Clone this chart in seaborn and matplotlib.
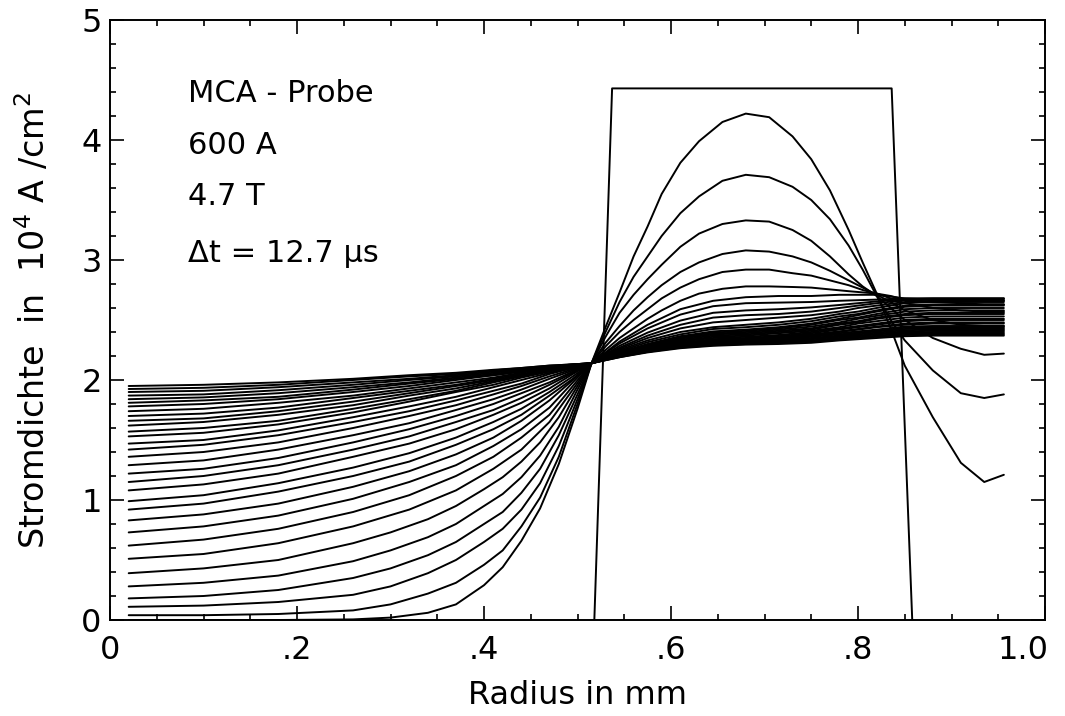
import matplotlib
matplotlib.use("Agg")
import matplotlib.pyplot as plt
import matplotlib.transforms as mtransforms
import numpy as np
import pandas as pd
import seaborn as sns
from matplotlib import font_manager
from matplotlib.ticker import FixedLocator, MultipleLocator

# ---------------- data ----------------
# radial grids: copper core, filament zone, outer matrix
# the first six (strongly curved) time steps were read on a finer grid
x_core_fine = [0.02, 0.10, 0.18, 0.26, 0.30, 0.34, 0.37, 0.40, 0.42, 0.44, 0.46, 0.48, 0.50, 0.515]
x_fil_fine = [0.53, 0.545, 0.56, 0.575, 0.59, 0.61, 0.63, 0.655, 0.68, 0.705, 0.73, 0.75,
              0.77, 0.79, 0.805, 0.82, 0.835, 0.85]
x_core = [0.02, 0.10, 0.18, 0.26, 0.32, 0.37, 0.41, 0.44, 0.47, 0.495, 0.515]
x_fil = [0.545, 0.575, 0.61, 0.645, 0.68, 0.715, 0.75, 0.78, 0.80, 0.82, 0.85]
x_out = [0.88, 0.91, 0.935, 0.956]

# current density (10^4 A/cm^2), time steps 1-6 (fine grid)
j_core_early = [
    [0.00, 0.00, 0.00, 0.005, 0.02, 0.06, 0.13, 0.29, 0.44, 0.66, 0.93, 1.30, 1.76, 2.14],
    [0.04, 0.04, 0.05, 0.08, 0.13, 0.22, 0.31, 0.46, 0.58, 0.78, 1.02, 1.36, 1.80, 2.14],
    [0.11, 0.12, 0.15, 0.21, 0.28, 0.39, 0.50, 0.65, 0.76, 0.92, 1.14, 1.45, 1.84, 2.14],
    [0.18, 0.20, 0.25, 0.35, 0.43, 0.54, 0.65, 0.80, 0.90, 1.06, 1.26, 1.54, 1.88, 2.14],
    [0.28, 0.31, 0.37, 0.49, 0.58, 0.69, 0.80, 0.95, 1.05, 1.19, 1.37, 1.61, 1.92, 2.14],
    [0.39, 0.43, 0.50, 0.64, 0.73, 0.84, 0.95, 1.09, 1.19, 1.32, 1.48, 1.69, 1.95, 2.14],
]
j_fil_early = [
    [2.44, 2.73, 3.03, 3.28, 3.55, 3.81, 3.99, 4.15, 4.22, 4.19, 4.03, 3.84, 3.58, 3.25, 2.98, 2.72, 2.43, 2.12],
    [2.40, 2.65, 2.86, 3.03, 3.20, 3.39, 3.53, 3.66, 3.71, 3.69, 3.61, 3.50, 3.34, 3.12, 2.92, 2.70, 2.50, 2.33],
    [2.36, 2.56, 2.71, 2.84, 2.96, 3.11, 3.22, 3.30, 3.33, 3.32, 3.25, 3.16, 3.03, 2.88, 2.78, 2.70, 2.60, 2.50],
    [2.31, 2.45, 2.58, 2.69, 2.79, 2.90, 2.98, 3.05, 3.08, 3.07, 3.03, 2.98, 2.91, 2.83, 2.77, 2.71, 2.65, 2.58],
    [2.28, 2.40, 2.50, 2.59, 2.68, 2.77, 2.84, 2.90, 2.92, 2.92, 2.89, 2.87, 2.83, 2.79, 2.75, 2.72, 2.68, 2.64],
    [2.25, 2.35, 2.43, 2.51, 2.58, 2.66, 2.72, 2.76, 2.78, 2.78, 2.775, 2.77, 2.755, 2.74, 2.73, 2.72, 2.70, 2.67],
]
# time steps 7-32 (coarse grid)
j_core_late = [
    [0.51, 0.55, 0.64, 0.78, 0.92, 1.08, 1.26, 1.42, 1.65, 1.92, 2.14],
    [0.62, 0.67, 0.76, 0.90, 1.04, 1.20, 1.36, 1.52, 1.71, 1.95, 2.14],
    [0.73, 0.78, 0.87, 1.01, 1.15, 1.29, 1.45, 1.59, 1.77, 1.98, 2.14],
    [0.83, 0.88, 0.97, 1.11, 1.24, 1.38, 1.52, 1.66, 1.83, 2.00, 2.14],
    [0.92, 0.97, 1.07, 1.20, 1.32, 1.46, 1.59, 1.71, 1.87, 2.01, 2.14],
    [0.99, 1.04, 1.14, 1.27, 1.39, 1.52, 1.65, 1.76, 1.90, 2.03, 2.14],
    [1.08, 1.13, 1.22, 1.36, 1.47, 1.59, 1.71, 1.81, 1.93, 2.05, 2.14],
    [1.15, 1.20, 1.29, 1.42, 1.53, 1.65, 1.75, 1.85, 1.96, 2.06, 2.14],
    [1.22, 1.26, 1.35, 1.48, 1.59, 1.70, 1.80, 1.89, 1.98, 2.07, 2.14],
    [1.29, 1.33, 1.42, 1.54, 1.64, 1.75, 1.84, 1.92, 2.01, 2.08, 2.14],
    [1.36, 1.40, 1.48, 1.60, 1.70, 1.79, 1.88, 1.95, 2.03, 2.09, 2.14],
    [1.42, 1.46, 1.54, 1.65, 1.74, 1.83, 1.91, 1.97, 2.05, 2.10, 2.14],
    [1.47, 1.50, 1.58, 1.69, 1.78, 1.86, 1.94, 2.00, 2.06, 2.10, 2.14],
    [1.53, 1.56, 1.63, 1.73, 1.82, 1.90, 1.96, 2.02, 2.07, 2.11, 2.14],
    [1.57, 1.60, 1.66, 1.76, 1.84, 1.91, 1.98, 2.03, 2.08, 2.11, 2.14],
    [1.62, 1.65, 1.71, 1.79, 1.87, 1.93, 1.99, 2.04, 2.08, 2.11, 2.14],
    [1.66, 1.68, 1.74, 1.82, 1.89, 1.95, 2.00, 2.04, 2.09, 2.12, 2.14],
    [1.70, 1.72, 1.77, 1.85, 1.91, 1.96, 2.01, 2.05, 2.09, 2.12, 2.14],
    [1.74, 1.76, 1.81, 1.87, 1.93, 1.98, 2.02, 2.06, 2.10, 2.12, 2.14],
    [1.78, 1.80, 1.84, 1.90, 1.95, 2.00, 2.04, 2.07, 2.10, 2.12, 2.14],
    [1.81, 1.83, 1.86, 1.92, 1.97, 2.01, 2.04, 2.07, 2.10, 2.12, 2.14],
    [1.84, 1.855, 1.89, 1.94, 1.98, 2.02, 2.05, 2.08, 2.11, 2.125, 2.14],
    [1.87, 1.88, 1.915, 1.96, 2.00, 2.03, 2.06, 2.09, 2.11, 2.13, 2.14],
    [1.90, 1.91, 1.94, 1.98, 2.01, 2.04, 2.07, 2.09, 2.11, 2.13, 2.14],
    [1.925, 1.935, 1.96, 2.00, 2.03, 2.05, 2.08, 2.10, 2.12, 2.13, 2.14],
    [1.95, 1.96, 1.98, 2.01, 2.04, 2.06, 2.085, 2.10, 2.12, 2.13, 2.14],
]
j_fil_late = [
    [2.32, 2.46, 2.59, 2.66, 2.69, 2.70, 2.70, 2.71, 2.71, 2.71, 2.68],
    [2.305, 2.43, 2.545, 2.615, 2.64, 2.645, 2.65, 2.66, 2.665, 2.67, 2.68],
    [2.285, 2.395, 2.495, 2.56, 2.58, 2.59, 2.605, 2.625, 2.64, 2.655, 2.675],
    [2.27, 2.37, 2.46, 2.52, 2.54, 2.55, 2.57, 2.60, 2.62, 2.64, 2.665],
    [2.26, 2.35, 2.43, 2.48, 2.50, 2.52, 2.54, 2.57, 2.60, 2.62, 2.65],
    [2.25, 2.33, 2.40, 2.44, 2.46, 2.48, 2.51, 2.55, 2.57, 2.60, 2.64],
    [2.24, 2.315, 2.38, 2.425, 2.44, 2.46, 2.49, 2.53, 2.55, 2.58, 2.62],
    [2.23, 2.30, 2.365, 2.405, 2.42, 2.44, 2.47, 2.51, 2.54, 2.57, 2.61],
    [2.23, 2.295, 2.36, 2.395, 2.41, 2.43, 2.46, 2.50, 2.52, 2.55, 2.59],
    [2.225, 2.29, 2.35, 2.385, 2.40, 2.42, 2.445, 2.48, 2.51, 2.535, 2.57],
    [2.22, 2.285, 2.345, 2.38, 2.39, 2.41, 2.43, 2.47, 2.49, 2.52, 2.55],
    [2.22, 2.28, 2.335, 2.37, 2.38, 2.40, 2.42, 2.46, 2.48, 2.51, 2.54],
    [2.215, 2.275, 2.325, 2.36, 2.37, 2.39, 2.41, 2.44, 2.47, 2.49, 2.52],
    [2.21, 2.27, 2.32, 2.35, 2.36, 2.375, 2.40, 2.43, 2.45, 2.47, 2.50],
    [2.21, 2.26, 2.31, 2.34, 2.35, 2.365, 2.39, 2.42, 2.44, 2.46, 2.49],
    [2.21, 2.26, 2.305, 2.335, 2.345, 2.36, 2.38, 2.405, 2.425, 2.445, 2.47],
    [2.205, 2.255, 2.30, 2.33, 2.34, 2.355, 2.37, 2.40, 2.42, 2.44, 2.46],
    [2.205, 2.255, 2.30, 2.325, 2.335, 2.345, 2.365, 2.39, 2.405, 2.42, 2.445],
    [2.20, 2.25, 2.295, 2.32, 2.33, 2.34, 2.36, 2.38, 2.395, 2.41, 2.435],
    [2.20, 2.245, 2.29, 2.315, 2.325, 2.335, 2.35, 2.37, 2.39, 2.405, 2.425],
    [2.20, 2.245, 2.285, 2.31, 2.32, 2.33, 2.345, 2.365, 2.38, 2.395, 2.415],
    [2.20, 2.24, 2.28, 2.305, 2.315, 2.325, 2.34, 2.36, 2.37, 2.385, 2.405],
    [2.195, 2.24, 2.28, 2.30, 2.31, 2.32, 2.33, 2.35, 2.365, 2.38, 2.395],
    [2.195, 2.235, 2.275, 2.295, 2.305, 2.315, 2.325, 2.345, 2.355, 2.37, 2.385],
    [2.19, 2.235, 2.27, 2.29, 2.30, 2.31, 2.32, 2.335, 2.35, 2.36, 2.375],
    [2.19, 2.23, 2.265, 2.285, 2.295, 2.30, 2.31, 2.33, 2.34, 2.35, 2.365],
]
# outer matrix, time steps 1-32
j_out = [
    [1.69, 1.31, 1.15, 1.21],
    [2.08, 1.89, 1.85, 1.88],
    [2.35, 2.26, 2.21, 2.22],
    [2.50, 2.46, 2.45, 2.45],
    [2.60, 2.58, 2.57, 2.57],
    [2.65, 2.64, 2.63, 2.63],
    [2.67, 2.66, 2.66, 2.66],
    [2.68, 2.68, 2.68, 2.68],
    [2.68, 2.68, 2.68, 2.68],
    [2.67, 2.67, 2.67, 2.67],
    [2.66, 2.66, 2.66, 2.66],
    [2.65, 2.65, 2.65, 2.65],
    [2.63, 2.63, 2.63, 2.63],
    [2.62, 2.62, 2.62, 2.62],
    [2.60, 2.60, 2.60, 2.60],
    [2.58, 2.58, 2.58, 2.58],
    [2.56, 2.56, 2.56, 2.56],
    [2.55, 2.55, 2.55, 2.55],
    [2.53, 2.53, 2.53, 2.53],
    [2.51, 2.51, 2.51, 2.51],
    [2.50, 2.50, 2.50, 2.50],
    [2.48, 2.48, 2.48, 2.48],
    [2.47, 2.47, 2.47, 2.47],
    [2.45, 2.45, 2.45, 2.45],
    [2.44, 2.44, 2.44, 2.44],
    [2.43, 2.43, 2.43, 2.43],
    [2.42, 2.42, 2.42, 2.42],
    [2.41, 2.41, 2.41, 2.41],
    [2.40, 2.40, 2.40, 2.40],
    [2.39, 2.39, 2.39, 2.39],
    [2.38, 2.38, 2.38, 2.38],
    [2.37, 2.37, 2.37, 2.37],
]

# initial (step) distribution in the filament zone
step_r = [0.518, 0.537, 0.836, 0.858]
step_j = [0.0, 4.43, 4.43, 0.0]

x_ticks = [0.0, 0.2, 0.4, 0.6, 0.8, 1.0]
x_tick_labels = ["0", ".2", ".4", ".6", ".8", "1.0"]
y_ticks = [0, 1, 2, 3, 4, 5]
y_tick_labels = ["0", "1", "2", "3", "4", "5"]
info_lines = ["MCA - Probe", "600 A", "4.7 T", "\u0394t = 12.7 \u00b5s"]
info_y = [4.32, 3.88, 3.46, 2.98]

# ---------------- long table for seaborn ----------------
records = []
n_early = len(j_core_early)
for k in range(n_early + len(j_core_late)):
    if k < n_early:
        xs = x_core_fine + x_fil_fine + x_out
        ys = j_core_early[k] + j_fil_early[k] + j_out[k]
    else:
        xs = x_core + x_fil + x_out
        ys = j_core_late[k - n_early] + j_fil_late[k - n_early] + j_out[k]
    for xv, yv in zip(xs, ys):
        records.append({"curve": k, "r": xv, "j": yv})
df = pd.DataFrame(records)
df_step = pd.DataFrame({"r": step_r, "j": step_j})

# ---------------- style ----------------
sns.set_style("ticks")
avail = {f.name for f in font_manager.fontManager.ttflist}
family = next((f for f in ["Liberation Sans Narrow", "DejaVu Sans"] if f in avail), "DejaVu Sans")
plt.rcParams["font.family"] = [family, "DejaVu Sans"]
plt.rcParams["mathtext.fontset"] = "custom"
plt.rcParams["mathtext.rm"] = family
plt.rcParams["mathtext.default"] = "regular"
for key in ["text.color", "axes.labelcolor", "xtick.color", "ytick.color", "axes.edgecolor"]:
    plt.rcParams[key] = "black"

fig = plt.figure(figsize=(10.65, 7.16), dpi=100)
fig.patch.set_facecolor("white")
ax = fig.add_axes([110 / 1065, 1 - 620 / 716, 935 / 1065, 600 / 716])

sns.lineplot(data=df, x="r", y="j", units="curve", estimator=None, sort=False,
             color="black", linewidth=1.4, legend=False, ax=ax)
sns.lineplot(data=df_step, x="r", y="j", estimator=None, sort=False,
             color="black", linewidth=1.4, ax=ax)

ax.set_xlim(0, 1.0)
ax.set_ylim(0, 5)
ax.xaxis.set_major_locator(FixedLocator(x_ticks))
ax.set_xticklabels(x_tick_labels)
ax.yaxis.set_major_locator(FixedLocator(y_ticks))
ax.set_yticklabels(y_tick_labels)
ax.xaxis.set_minor_locator(MultipleLocator(0.05))
ax.yaxis.set_minor_locator(MultipleLocator(0.2))
ax.tick_params(which="both", direction="in", top=True, right=True, width=1.2, color="black")
ax.tick_params(which="major", length=10)
ax.tick_params(which="minor", length=4)
ax.tick_params(axis="x", which="major", pad=11, labelsize=23)
ax.tick_params(axis="y", which="major", pad=6, labelsize=23)
for s in ax.spines.values():
    s.set_linewidth(1.4)
    s.set_color("black")

# keep the "1.0" label inside the figure, as in the reference
last = ax.get_xticklabels()[-1]
last.set_transform(last.get_transform() + mtransforms.ScaledTranslation(-22 / 100, 0, fig.dpi_scale_trans))

ax.set_xlabel("Radius in mm", fontsize=23)
ax.xaxis.set_label_coords(0.5, -0.100)
ax.set_ylabel("Stromdichte  in  10$^{4}$ A /cm$^{2}$", fontsize=24)
ax.yaxis.set_label_coords(-0.062, 0.50)

for txt, yv in zip(info_lines, info_y):
    ax.text(0.083, yv, txt, fontsize=22, va="baseline", ha="left")

fig.savefig("out.png", dpi=100, facecolor="white")
